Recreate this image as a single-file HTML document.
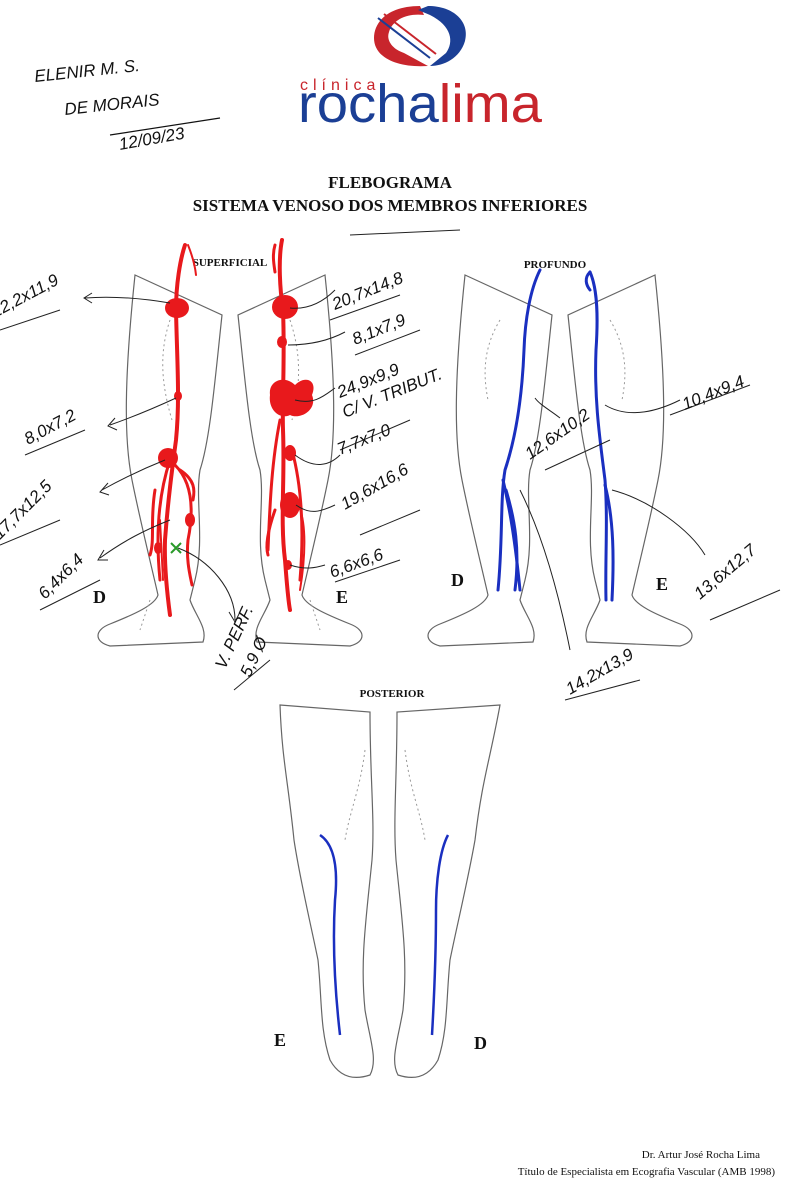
<!DOCTYPE html>
<html><head><meta charset="utf-8"><style>
html,body{margin:0;padding:0;background:#fff}
svg{display:block}
.hw{font-family:"Liberation Sans",sans-serif;font-style:italic;font-size:17px;fill:#111}
.ttl{font-family:"Liberation Serif",serif;font-weight:bold;fill:#111}
</style></head><body>
<svg width="800" height="1187" viewBox="0 0 800 1187" xmlns="http://www.w3.org/2000/svg">
<defs>
<path id="legD" d="M135,275 L222,315 C215,380 210,440 200,470 C195,500 205,540 195,580 L190,600 C195,615 208,628 203,642 L110,646 C94,642 94,630 110,624 C135,614 155,605 158,595 C150,560 140,520 132,480 C124,440 124,380 135,275Z" fill="none" stroke="#666" stroke-width="1.2"/>
</defs>
<!-- Logo -->
<path d="M420,6 C388,6 374,22 374,38 C374,58 398,68 428,66 L404,53 C392,49 386,40 389,32 C393,19 408,13 424,15 Z" fill="#c8252c"/>
<path d="M378,18 L430,58" stroke="#1b3f95" stroke-width="2"/>
<path d="M384,14 L436,54" stroke="#c8252c" stroke-width="2"/>
<path d="M428,6 C454,6 470,22 465,41 C460,58 444,66 430,66 L446,53 C454,42 452,26 430,15 L418,10 Z" fill="#1b3f95"/>
<text x="300" y="90" font-family="Liberation Sans,sans-serif" font-size="16" letter-spacing="5" fill="#c8252c">clínica</text>
<text x="298" y="122" font-family="Liberation Sans,sans-serif" font-size="54" textLength="244" lengthAdjust="spacingAndGlyphs" fill="#1b3f95">rocha<tspan fill="#c8252c">lima</tspan></text>
<!-- Handwriting top-left -->
<text class="hw" x="35" y="82" transform="rotate(-6 35 82)" font-size="21">ELENIR M. S.</text>
<text class="hw" x="65" y="115" transform="rotate(-6 65 115)" font-size="21">DE MORAIS</text>
<text class="hw" x="120" y="150" transform="rotate(-10 120 150)" font-size="22">12/09/23</text>
<path d="M110,135 L220,118" stroke="#111" stroke-width="1.2" fill="none"/>
<!-- Titles -->
<text class="ttl" x="390" y="188" font-size="17" text-anchor="middle">FLEBOGRAMA</text>
<text class="ttl" x="390" y="211" font-size="17" text-anchor="middle">SISTEMA VENOSO DOS MEMBROS INFERIORES</text>
<text class="ttl" x="230" y="266" font-size="11" text-anchor="middle">SUPERFICIAL</text>
<text class="ttl" x="555" y="268" font-size="11" text-anchor="middle">PROFUNDO</text>
<text class="ttl" x="392" y="697" font-size="11" text-anchor="middle">POSTERIOR</text>
<!-- Legs -->
<use href="#legD"/>
<use href="#legD" transform="translate(460 0) scale(-1 1)"/>
<use href="#legD" transform="translate(330 0)"/>
<use href="#legD" transform="translate(790 0) scale(-1 1)"/>
<g stroke="#999" stroke-dasharray="2,3" fill="none" stroke-width="1">
<path d="M170,320 C160,350 160,380 172,420"/><path d="M290,320 C300,350 302,380 292,420"/>
<path d="M500,320 C485,345 482,370 488,400"/><path d="M610,320 C625,345 628,370 622,400"/>
<path d="M150,600 L140,630"/><path d="M310,600 L320,630"/>
</g>
<text class="ttl" x="93" y="603" font-size="18">D</text>
<text class="ttl" x="336" y="603" font-size="18">E</text>
<text class="ttl" x="451" y="586" font-size="18">D</text>
<text class="ttl" x="656" y="590" font-size="18">E</text>
<!-- Superficial red veins D -->
<g stroke="#e8191c" fill="none" stroke-linecap="round">
<path d="M185,245 C180,260 176,285 176,310 C177,360 180,400 176,440 C172,470 168,500 165,540 C164,570 168,600 170,615" stroke-width="4"/>
<path d="M170,460 C160,490 155,530 160,580" stroke-width="3"/>
<path d="M175,465 C190,480 195,505 188,540 C186,560 190,575 192,585" stroke-width="3"/>
<path d="M180,470 C195,480 195,490 193,500" stroke-width="3"/>
<path d="M155,490 C150,520 155,540 150,555" stroke-width="3"/>
<path d="M160,520 L163,580" stroke-width="2"/>
<path d="M188,245 C192,255 195,265 196,275" stroke-width="2"/>
</g>
<g fill="#e8191c">
<ellipse cx="177" cy="308" rx="12" ry="10"/><ellipse cx="178" cy="396" rx="4" ry="5"/>
<ellipse cx="168" cy="458" rx="10" ry="10"/><ellipse cx="190" cy="520" rx="5" ry="7"/>
<ellipse cx="158" cy="548" rx="4" ry="6"/>
</g>
<path d="M171,543 L181,553 M181,543 L171,553" stroke="#2a9a2a" stroke-width="2"/>
<!-- Superficial red veins E -->
<g stroke="#e8191c" fill="none" stroke-linecap="round">
<path d="M282,240 C278,260 280,290 283,310 C285,360 282,400 283,430 C285,480 280,520 285,560 C287,585 288,600 290,610" stroke-width="4"/>
<path d="M275,245 C272,255 274,265 275,272" stroke-width="3"/>
<path d="M280,420 C272,460 270,500 268,550" stroke-width="3"/>
<path d="M292,450 C300,480 305,520 300,580" stroke-width="3"/>
<path d="M275,510 C268,530 265,545 268,555" stroke-width="3"/>
<path d="M296,500 C308,520 305,560 300,590" stroke-width="2"/>
</g>
<g fill="#e8191c">
<ellipse cx="285" cy="307" rx="13" ry="12"/><ellipse cx="282" cy="342" rx="5" ry="6"/>
<path d="M270,395 C268,380 285,375 295,385 C305,375 318,380 312,395 C318,410 300,420 290,415 C280,420 268,410 270,395Z"/>
<ellipse cx="290" cy="453" rx="6" ry="8"/><ellipse cx="290" cy="505" rx="10" ry="13"/>
<ellipse cx="288" cy="565" rx="4" ry="5"/>
</g>
<!-- Profundo blue -->
<g stroke="#1a2fc0" fill="none" stroke-width="3" stroke-linecap="round">
<path d="M540,270 C530,290 525,320 524,350 C522,400 515,440 505,470 C500,500 503,540 498,590"/>
<path d="M503,480 C510,510 515,540 520,590"/>
<path d="M506,490 C515,520 520,550 515,590"/>
<path d="M590,272 C598,290 598,320 596,350 C594,400 600,440 605,480 C608,520 605,560 606,600"/>
<path d="M605,485 C614,520 614,560 612,600"/>
<path d="M590,272 C584,278 586,285 590,290"/>
</g>
<!-- Posterior legs -->
<g fill="none" stroke="#666" stroke-width="1.2">
<path d="M280,705 L370,712 C370,780 375,820 372,860 C366,920 360,960 365,1010 C370,1040 378,1060 370,1075 C355,1080 340,1078 330,1060 C320,1030 322,1000 318,960 C312,930 300,880 294,840 C288,780 282,760 280,705Z"/>
<path d="M500,705 L397,712 C397,780 393,820 396,860 C402,920 408,960 403,1010 C398,1040 390,1060 398,1075 C413,1080 428,1078 438,1060 C448,1030 446,1000 450,960 C456,930 468,880 475,840 C482,780 490,760 500,705Z"/>
</g>
<g stroke="#999" stroke-dasharray="2,3" fill="none">
<path d="M365,750 C360,790 350,810 345,840"/><path d="M405,750 C410,790 420,810 425,840"/>
</g>
<g stroke="#1a2fc0" fill="none" stroke-width="2.5">
<path d="M320,835 C335,845 338,870 335,900 C332,950 336,1000 340,1035"/>
<path d="M448,835 C440,850 436,880 436,910 C436,960 434,1000 432,1035"/>
</g>
<text class="ttl" x="274" y="1046" font-size="18">E</text>
<text class="ttl" x="474" y="1049" font-size="18">D</text>
<!-- Handwritten labels & arrows -->
<g stroke="#222" fill="none" stroke-width="1">
<path d="M170,303 C140,298 110,296 85,298 M92,293 L84,298 L92,303"/>
<path d="M176,398 C150,410 130,418 110,425 M115,418 L108,426 L117,430"/>
<path d="M165,460 C140,470 120,480 102,490 M108,483 L100,492 L109,495"/>
<path d="M170,520 C145,530 125,540 100,558 M104,550 L98,560 L108,560"/>
<path d="M178,548 C210,560 235,590 235,620 M229,612 L235,622 L240,612"/>
<path d="M290,308 C310,310 325,300 335,290"/><path d="M288,345 C310,345 330,340 345,332"/>
<path d="M295,400 C315,405 325,395 335,388"/><path d="M295,455 C315,470 330,465 340,455"/>
<path d="M296,505 C310,515 320,512 335,505"/><path d="M290,565 C305,570 315,568 325,565"/>
<path d="M560,418 C550,410 540,405 535,398"/>
<path d="M605,405 C630,420 660,410 680,400"/>
<path d="M612,490 C650,500 690,530 705,555"/>
<path d="M520,490 C545,540 560,600 570,650"/>
<path d="M0,330 L60,310 M25,455 L85,430 M0,545 L60,520 M40,610 L100,580"/>
<path d="M330,320 L400,295 M355,355 L420,330 M340,450 L410,420 M360,535 L420,510 M335,582 L400,560"/>
<path d="M234,690 L270,660 M545,470 L610,440 M670,415 L750,385 M710,620 L780,590 M565,700 L640,680"/>
<path d="M350,235 L460,230"/>
</g>
<text class="hw" x="-5" y="318" transform="rotate(-28 -5 318)">12,2x11,9</text>
<text class="hw" x="28" y="445" transform="rotate(-28 28 445)">8,0x7,2</text>
<text class="hw" x="0" y="540" transform="rotate(-45 0 540)">17,7x12,5</text>
<text class="hw" x="45" y="600" transform="rotate(-45 45 600)">6,4x6,4</text>
<text class="hw" x="335" y="310" transform="rotate(-22 335 310)">20,7x14,8</text>
<text class="hw" x="355" y="345" transform="rotate(-22 355 345)">8,1x7,9</text>
<text class="hw" x="340" y="398" transform="rotate(-22 340 398)">24,9x9,9</text>
<text class="hw" x="345" y="418" transform="rotate(-22 345 418)" font-size="14">C/ V. TRIBUT.</text>
<text class="hw" x="340" y="455" transform="rotate(-22 340 455)">7,7x7,0</text>
<text class="hw" x="345" y="510" transform="rotate(-30 345 510)">19,6x16,6</text>
<text class="hw" x="332" y="578" transform="rotate(-20 332 578)">6,6x6,6</text>
<text class="hw" x="225" y="670" transform="rotate(-65 225 670)" font-size="14">V. PERF.</text>
<text class="hw" x="250" y="678" transform="rotate(-65 250 678)">5,9 Ø</text>
<text class="hw" x="530" y="460" transform="rotate(-35 530 460)">12,6x10,2</text>
<text class="hw" x="685" y="410" transform="rotate(-22 685 410)">10,4x9,4</text>
<text class="hw" x="700" y="600" transform="rotate(-40 700 600)">13,6x12,7</text>
<text class="hw" x="570" y="695" transform="rotate(-30 570 695)">14,2x13,9</text>
<!-- Footer -->
<text x="760" y="1158" font-family="Liberation Serif,serif" font-size="11" text-anchor="end" fill="#111">Dr. Artur José Rocha Lima</text>
<text x="775" y="1175" font-family="Liberation Serif,serif" font-size="11" text-anchor="end" fill="#111">Título de Especialista em Ecografia Vascular (AMB 1998)</text>
</svg>
</body></html>
